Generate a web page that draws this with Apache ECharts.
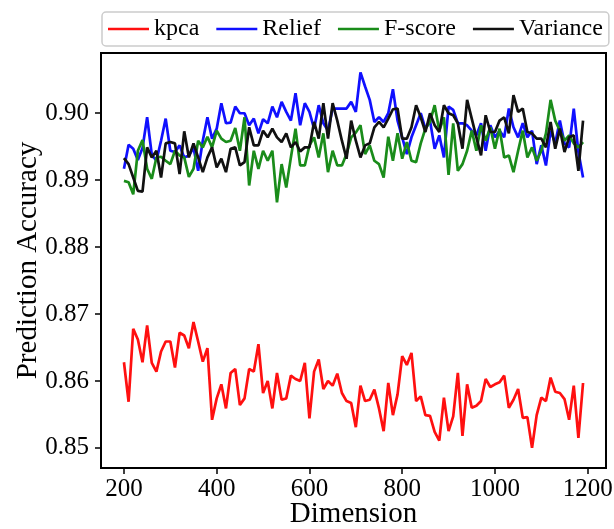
<!DOCTYPE html>
<html>
<head>
<meta charset="utf-8">
<script src="https://cdn.jsdelivr.net/npm/echarts@6/dist/echarts.min.js"></script>
<style>
  body { margin: 0; background: #fff; }
  #chart_plot_01 { width: 614px; height: 529px; }
</style>
</head>
<body>
<div id="chart_plot_01"></div>
<script>
// x: Dimension
let dims = [200, 210, 220, 230, 240, 250, 260, 270, 280, 290,
  300, 310, 320, 330, 340, 350, 360, 370, 380, 390,
  400, 410, 420, 430, 440, 450, 460, 470, 480, 490,
  500, 510, 520, 530, 540, 550, 560, 570, 580, 590,
  600, 610, 620, 630, 640, 650, 660, 670, 680, 690,
  700, 710, 720, 730, 740, 750, 760, 770, 780, 790,
  800, 810, 820, 830, 840, 850, 860, 870, 880, 890,
  900, 910, 920, 930, 940, 950, 960, 970, 980, 990,
  1000, 1010, 1020, 1030, 1040, 1050, 1060, 1070, 1080, 1090,
  1100, 1110, 1120, 1130, 1140, 1150, 1160, 1170, 1180, 1190];

let kpca = [0.8628, 0.8569, 0.8678, 0.8662, 0.8628, 0.8683, 0.8627, 0.8614, 0.8644, 0.8659,
  0.8659, 0.8620, 0.8672, 0.8668, 0.8649, 0.8688, 0.8659, 0.8629, 0.8649, 0.8542,
  0.8574, 0.8595, 0.8559, 0.8612, 0.8618, 0.8564, 0.8574, 0.8618, 0.8614, 0.8655,
  0.8582, 0.8600, 0.8559, 0.8612, 0.8572, 0.8574, 0.8608, 0.8603, 0.8600, 0.8627,
  0.8544, 0.8614, 0.8632, 0.8588, 0.8600, 0.8593, 0.8611, 0.8582, 0.8570, 0.8567,
  0.8531, 0.8593, 0.8570, 0.8572, 0.8587, 0.8559, 0.8525, 0.8597, 0.8549, 0.8580,
  0.8637, 0.8624, 0.8642, 0.8570, 0.8577, 0.8549, 0.8548, 0.8524, 0.8511, 0.8575,
  0.8525, 0.8547, 0.8612, 0.8518, 0.8595, 0.8560, 0.8563, 0.8570, 0.8603, 0.8591,
  0.8595, 0.8598, 0.8608, 0.8560, 0.8572, 0.8588, 0.8545, 0.8546, 0.8500, 0.8549,
  0.8575, 0.8570, 0.8605, 0.8584, 0.8582, 0.8573, 0.8542, 0.8593, 0.8515, 0.8597];

let relief = [0.8917, 0.8953, 0.8947, 0.8930, 0.8948, 0.8994, 0.8938, 0.8929, 0.8959, 0.8992,
  0.8944, 0.8942, 0.8952, 0.8934, 0.8937, 0.8948, 0.8914, 0.8959, 0.8994, 0.8962,
  0.8977, 0.9015, 0.8985, 0.8986, 0.9010, 0.9000, 0.9000, 0.8982, 0.8992, 0.8970,
  0.8991, 0.8985, 0.9010, 0.8994, 0.9017, 0.9002, 0.8989, 0.9030, 0.8982, 0.9015,
  0.9002, 0.8977, 0.9012, 0.8985, 0.8974, 0.9007, 0.9007, 0.9007, 0.9007, 0.9017,
  0.9002, 0.9061, 0.9040, 0.9020, 0.8987, 0.8994, 0.8987, 0.9000, 0.9036, 0.8989,
  0.8964, 0.8939, 0.8964, 0.8982, 0.9000, 0.8977, 0.8989, 0.8947, 0.8967, 0.8934,
  0.9010, 0.9005, 0.8985, 0.8985, 0.8982, 0.8974, 0.8967, 0.8985, 0.8944, 0.8982,
  0.8964, 0.8974, 0.8964, 0.9007, 0.8979, 0.8964, 0.8985, 0.8964, 0.8974, 0.8924,
  0.8952, 0.8922, 0.8974, 0.8955, 0.8989, 0.8955, 0.8949, 0.9007, 0.8942, 0.8904];

let fscore = [0.8899, 0.8897, 0.8879, 0.8944, 0.8960, 0.8917, 0.8902, 0.8934, 0.8935, 0.8929,
  0.8924, 0.8944, 0.8937, 0.8934, 0.8905, 0.8917, 0.8959, 0.8949, 0.8965, 0.8949,
  0.8974, 0.8962, 0.8957, 0.8959, 0.8978, 0.8944, 0.8994, 0.8892, 0.8944, 0.8917,
  0.8944, 0.8929, 0.8944, 0.8867, 0.8924, 0.8889, 0.8934, 0.8977, 0.8922, 0.8922,
  0.8952, 0.8964, 0.8934, 0.8970, 0.8912, 0.8944, 0.8922, 0.8922, 0.8939, 0.8964,
  0.8971, 0.8982, 0.8939, 0.8952, 0.8929, 0.8924, 0.8904, 0.8965, 0.8929, 0.8970,
  0.8932, 0.8957, 0.8929, 0.8927, 0.8955, 0.8977, 0.8987, 0.9012, 0.8974, 0.8994,
  0.8908, 0.8985, 0.8914, 0.8924, 0.8944, 0.8974, 0.8944, 0.8982, 0.8959, 0.8979,
  0.8947, 0.8977, 0.8934, 0.8937, 0.8912, 0.8944, 0.8974, 0.8934, 0.8949, 0.8929,
  0.8944, 0.8970, 0.9020, 0.8989, 0.8974, 0.8959, 0.8967, 0.8955, 0.8949, 0.8957];

let variance = [0.8933, 0.8924, 0.8904, 0.8884, 0.8883, 0.8949, 0.8934, 0.8944, 0.8904, 0.8955,
  0.8957, 0.8955, 0.8909, 0.8973, 0.8934, 0.8955, 0.8934, 0.8912, 0.8934, 0.8949,
  0.8919, 0.8932, 0.8912, 0.8947, 0.8949, 0.8922, 0.8927, 0.8979, 0.8952, 0.8952,
  0.8974, 0.8964, 0.8977, 0.8964, 0.8957, 0.8970, 0.8949, 0.8957, 0.8943, 0.8949,
  0.8949, 0.8987, 0.8962, 0.9015, 0.8962, 0.9015, 0.8989, 0.8959, 0.8932, 0.8989,
  0.8959, 0.8934, 0.8952, 0.8955, 0.8979, 0.8987, 0.8979, 0.8992, 0.9006, 0.9007,
  0.8962, 0.8962, 0.8979, 0.9012, 0.8994, 0.8972, 0.9000, 0.8982, 0.8972, 0.9012,
  0.9000, 0.8997, 0.8985, 0.8947, 0.9020, 0.8992, 0.8964, 0.8937, 0.8997, 0.8972,
  0.8972, 0.8989, 0.8994, 0.8970, 0.9027, 0.9002, 0.9007, 0.8972, 0.8970, 0.8962,
  0.8962, 0.8949, 0.8987, 0.8947, 0.8977, 0.8942, 0.8964, 0.8967, 0.8914, 0.8989];

let names = ['kpca', 'Relief', 'F-score', 'Variance'];
let colors = ['#ff1010', '#1010ff', '#1a8c1a', '#111111'];
let xTicks = [200, 400, 600, 800, 1000, 1200];
let yTicks = [0.85, 0.86, 0.87, 0.88, 0.89, 0.90];

let font = "'Liberation Serif', 'Times New Roman', serif";

function pairs(vals) {
  let out = [];
  for (let i = 0; i < dims.length; i++) {
    out.push([dims[i], vals[i]]);
  }
  return out;
}

let myChart = echarts.init(document.getElementById('chart_plot_01'));

let seriesVals = [kpca, relief, fscore, variance];
let series = [];
for (let i = 0; i < names.length; i++) {
  series.push({
    name: names[i],
    type: 'line',
    data: pairs(seriesVals[i]),
    showSymbol: false,
    symbol: 'none',
    lineStyle: { color: colors[i], width: 2.7 },
    itemStyle: { color: colors[i] }
  });
}

let option = {
  animation: false,
  backgroundColor: '#fff',
  legend: {
    data: names,
    left: 102,
    top: 12,
    padding: [5, 6],
    itemGap: 17,
    itemWidth: 41,
    itemHeight: 2.5,
    icon: 'rect',
    borderColor: '#cccccc',
    borderWidth: 1.5,
    borderRadius: 4,
    textStyle: { fontFamily: font, fontSize: 24, color: '#000' }
  },
  grid: {
    left: 101,
    right: 8,
    top: 53,
    bottom: 61,
    show: true,
    borderColor: '#000',
    borderWidth: 2,
    containLabel: false,
    outerBoundsMode: 'none'
  },
  xAxis: {
    type: 'value',
    min: 150.5,
    max: 1239.5,
    name: 'Dimension',
    nameLocation: 'middle',
    nameGap: 32,
    nameMoveOverlap: false,
    nameTextStyle: { fontFamily: font, fontSize: 29, color: '#000' },
    axisLine: { show: true, lineStyle: { color: '#000', width: 2 } },
    axisTick: { show: true, length: 6, customValues: xTicks, lineStyle: { color: '#000', width: 1.5 } },
    axisLabel: {
      customValues: xTicks, fontFamily: font, fontSize: 25, color: '#000', margin: 9,
      formatter: function (v) { return String(v); }
    },
    splitLine: { show: false }
  },
  yAxis: {
    type: 'value',
    min: 0.8470,
    max: 0.9090,
    name: 'Prediction Accuracy',
    nameLocation: 'middle',
    nameGap: 58,
    nameMoveOverlap: false,
    nameTextStyle: { fontFamily: font, fontSize: 29, color: '#000' },
    axisLine: { show: true, lineStyle: { color: '#000', width: 2 } },
    axisTick: { show: true, length: 6, customValues: yTicks, lineStyle: { color: '#000', width: 1.5 } },
    axisLabel: {
      customValues: yTicks,
      fontFamily: font, fontSize: 25, color: '#000', margin: 12,
      formatter: function (v) { return v.toFixed(2); }
    },
    splitLine: { show: false }
  },
  series: series
};

myChart.setOption(option);
</script>
</body>
</html>
